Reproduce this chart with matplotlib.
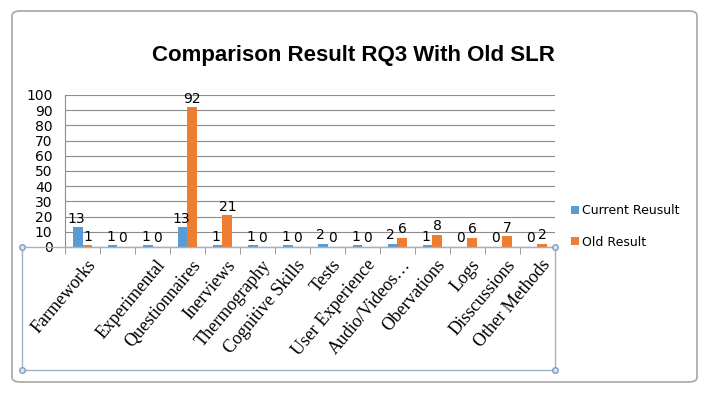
import matplotlib
import matplotlib.pyplot as plt
import numpy as np
from matplotlib.lines import Line2D
from matplotlib.patches import FancyBboxPatch, Rectangle

matplotlib.use("Agg")

# 14 groups; the second category has no label in the original chart
categories = ["Farmeworks", "", "Experimental", "Questionnaires", "Inerviews",
              "Thermography", "Cognitive Skills", "Tests", "User Experience",
              "Audio/Videos\u2026", "Obervations", "Logs", "Disscussions",
              "Other Methods"]
current = [13, 1, 1, 13, 1, 1, 1, 2, 1, 2, 1, 0, 0, 0]
old = [1, 0, 0, 92, 21, 0, 0, 0, 0, 6, 8, 6, 7, 2]
yticks = list(range(0, 101, 10))

BLUE = "#5b9bd5"
ORANGE = "#ed7d31"
W, H = 707, 393

fig = plt.figure(figsize=(W / 100, H / 100), dpi=100)
fig.patch.set_facecolor("white")

# outer rounded border
fig.patches.append(FancyBboxPatch((12 / W, 11 / H), 685 / W, 371 / H,
                                  boxstyle="round,pad=0,rounding_size=0.012",
                                  transform=fig.transFigure, fill=False,
                                  edgecolor="#a6a6a6", linewidth=1.2))
# inner category-area box with selection handles
fig.patches.append(Rectangle((22 / W, 23 / H), 533 / W, 123 / H,
                             transform=fig.transFigure, fill=False,
                             edgecolor="#9db3c8", linewidth=1.0))
for hx, hy in [(22, 146), (555, 146), (22, 23), (555, 23)]:
    fig.lines.append(Line2D([hx / W], [hy / H], transform=fig.transFigure,
                            marker="o", markersize=4, markerfacecolor="#dbe5f1",
                            markeredgecolor="#7f9db9", linestyle="none"))

ax = fig.add_axes([65 / W, 146 / H, 490 / W, 152 / H])

n = len(current)
x = np.arange(n)
w = 0.28
ax.bar(x - w / 2, current, w, color=BLUE, label="Current Reusult", zorder=3)
ax.bar(x + w / 2, old, w, color=ORANGE, label="Old Result", zorder=3)

for i in range(n):
    ax.text(x[i] - w / 2 - 0.05, current[i] + 1, str(current[i]), ha="center",
            va="bottom", fontsize=10, zorder=4)
    ax.text(x[i] + w / 2, old[i] + 1, str(old[i]), ha="center", va="bottom",
            fontsize=10, zorder=4)

ax.set_xlim(-0.5, n - 0.5)
ax.set_ylim(0, 100)
ax.set_yticks(yticks)
ax.tick_params(axis="y", length=0, labelsize=10, pad=9)
ax.yaxis.grid(True, color="#8c8c8c", linewidth=0.8, zorder=0)
for s in ["top", "right"]:
    ax.spines[s].set_visible(False)
ax.spines["left"].set_color("#8c8c8c")
ax.spines["bottom"].set_color("#8c8c8c")

ax.set_xticks(np.arange(n + 1) - 0.5, minor=True)
ax.tick_params(axis="x", which="minor", length=5, color="#8c8c8c", direction="out")
ax.set_xticks(x + 0.1)
ax.tick_params(axis="x", which="major", length=0, pad=7)
ax.set_xticklabels(categories, rotation=50, ha="right", rotation_mode="anchor",
                   family="Liberation Serif", fontsize=13)

fig.text(0.5, 0.86, "Comparison Result RQ3 With Old SLR", ha="center", va="center",
         fontsize=16, fontweight="bold", family="Liberation Sans")

ax.legend(loc="center left", bbox_to_anchor=(1.01, 0.135), frameon=False,
          fontsize=9, handlelength=0.6, handleheight=0.6, labelspacing=1.45,
          handletextpad=0.3)

fig.savefig("out.png", dpi=100)
